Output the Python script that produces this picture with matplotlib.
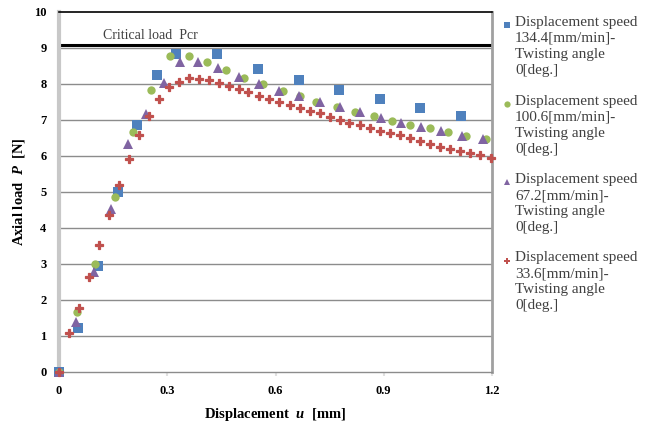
import matplotlib
matplotlib.use("Agg")
import matplotlib.pyplot as plt
from matplotlib.lines import Line2D

plt.rcParams['font.family'] = ['Liberation Serif', 'DejaVu Serif']
plt.rcParams['mathtext.fontset'] = 'custom'
plt.rcParams['mathtext.it'] = 'Liberation Serif:italic:bold'
plt.rcParams['mathtext.rm'] = 'Liberation Serif:bold'

# 134.4 mm/min
x_134 = [0, 0.054, 0.108, 0.163, 0.217, 0.272, 0.325, 0.439, 0.551, 0.664, 0.775, 0.890, 1.001, 1.113]
p_134 = [0, 1.23, 2.94, 4.99, 6.86, 8.25, 8.82, 8.82, 8.42, 8.12, 7.83, 7.58, 7.34, 7.12]

# 100.6 mm/min
x_100 = [0, 0.051, 0.101, 0.154, 0.204, 0.256, 0.307, 0.359, 0.411, 0.462, 0.513, 0.565,
         0.620, 0.667, 0.713, 0.771, 0.821, 0.872, 0.922, 0.973, 1.027, 1.078, 1.128, 1.182]
p_100 = [0, 1.68, 3.00, 4.85, 6.66, 7.83, 8.79, 8.79, 8.62, 8.40, 8.18, 8.00,
         7.81, 7.67, 7.51, 7.37, 7.23, 7.11, 6.98, 6.86, 6.77, 6.66, 6.56, 6.47]

# 67.2 mm/min
x_67 = [0, 0.046, 0.096, 0.143, 0.192, 0.240, 0.290, 0.336, 0.384, 0.440, 0.498, 0.553,
        0.609, 0.665, 0.722, 0.779, 0.835, 0.893, 0.948, 1.004, 1.059, 1.117, 1.175]
p_67 = [0, 1.38, 2.79, 4.54, 6.32, 7.18, 8.02, 8.60, 8.60, 8.44, 8.20, 8.00,
        7.81, 7.67, 7.51, 7.37, 7.21, 7.06, 6.93, 6.80, 6.69, 6.56, 6.47]

# 33.6 mm/min
x_33 = [0, 0.028, 0.056, 0.083, 0.110, 0.138, 0.166, 0.194, 0.222, 0.249, 0.277, 0.305,
        0.332, 0.360, 0.388, 0.416, 0.443, 0.471, 0.498, 0.525, 0.554, 0.582, 0.611, 0.639,
        0.667, 0.696, 0.722, 0.750, 0.778, 0.805, 0.833, 0.861, 0.890, 0.918, 0.946, 0.973,
        1.001, 1.029, 1.056, 1.084, 1.112, 1.140, 1.168, 1.196]
p_33 = [0, 1.08, 1.77, 2.65, 3.52, 4.36, 5.19, 5.92, 6.58, 7.12, 7.59, 7.93,
        8.05, 8.18, 8.15, 8.11, 8.04, 7.95, 7.86, 7.77, 7.68, 7.58, 7.49, 7.42,
        7.34, 7.26, 7.19, 7.09, 7.00, 6.92, 6.86, 6.79, 6.70, 6.63, 6.57, 6.49,
        6.43, 6.33, 6.26, 6.19, 6.14, 6.07, 6.03, 5.94]

p_cr = 9.07

labels = ['Displacement speed\n134.4[mm/min]-\nTwisting angle\n0[deg.]',
          'Displacement speed\n100.6[mm/min]-\nTwisting angle\n0[deg.]',
          'Displacement speed\n67.2[mm/min]-\nTwisting angle\n0[deg.]',
          'Displacement speed\n33.6[mm/min]-\nTwisting angle\n0[deg.]']

colors = ['#4f81bd', '#9bbb59', '#8064a2', '#c0504d']
markers = ['s', 'o', '^', 'P']
sizes = [6.5, 6, 6.5, 5.5]
edges = [0, 0, 0, 0.9]

fig = plt.figure(figsize=(6.45, 4.26), dpi=100)
ax = fig.add_axes([59 / 645, 1 - 372 / 426, 433 / 645, 360 / 426])

ax.set_xlim(0, 1.2)
ax.set_ylim(0, 10)
ax.set_yticks(range(0, 11))
ax.set_xticks([0, 0.3, 0.6, 0.9, 1.2])
ax.set_xticklabels(['0', '0.3', '0.6', '0.9', '1.2'])

for y in range(1, 10):
    ax.axhline(y, color='#8c8c8c', lw=1.0, zorder=1)
ax.axhline(p_cr, color='black', lw=2.2, zorder=2)
ax.text(0.122, 9.36, 'Critical load  Pcr', fontsize=10, color='#404040', va='center')

data = [(x_134, p_134), (x_100, p_100), (x_67, p_67), (x_33, p_33)]
for (xs, ps), c, m, s, e in zip(data, colors, markers, sizes, edges):
    ax.plot(xs, ps, linestyle='none', marker=m, color=c, markersize=s,
            markeredgewidth=e, zorder=3, clip_on=False)

ax.spines['top'].set_color('black')
ax.spines['top'].set_linewidth(1.2)
ax.spines['right'].set_color('#a0a0a0')
ax.spines['right'].set_linewidth(2)
ax.spines['left'].set_color('#c8c8c8')
ax.spines['left'].set_linewidth(3)
ax.spines['bottom'].set_color('#8c8c8c')
ax.spines['bottom'].set_linewidth(1)

ax.tick_params(axis='y', length=0, pad=9, labelsize=9)
ax.tick_params(axis='x', length=3, width=1.5, color='#e0e0e0', pad=6, labelsize=9)
for lab in ax.get_xticklabels() + ax.get_yticklabels():
    lab.set_fontweight('bold')

ax.set_xlabel('Displacement  $u$  [mm]', fontsize=10.5, fontweight='bold', labelpad=7)
ax.set_ylabel('Axial load  $P$  [N]', fontsize=10.5, fontweight='bold', labelpad=5)

# legend drawn beside the axes
for i, (lab, c, m) in enumerate(zip(labels, colors, markers)):
    ytop = 25 + i * 78.5
    fig.add_artist(Line2D([507 / 645], [1 - ytop / 426], transform=fig.transFigure,
                          marker=m, color=c, markersize=4.5, markeredgewidth=0,
                          linestyle='none'))
    fig.text(515 / 645, 1 - (ytop - 9) / 426, lab, fontsize=11, color='#404040',
             va='top', ha='left', linespacing=1.3)

fig.savefig('out.png', dpi=100)
